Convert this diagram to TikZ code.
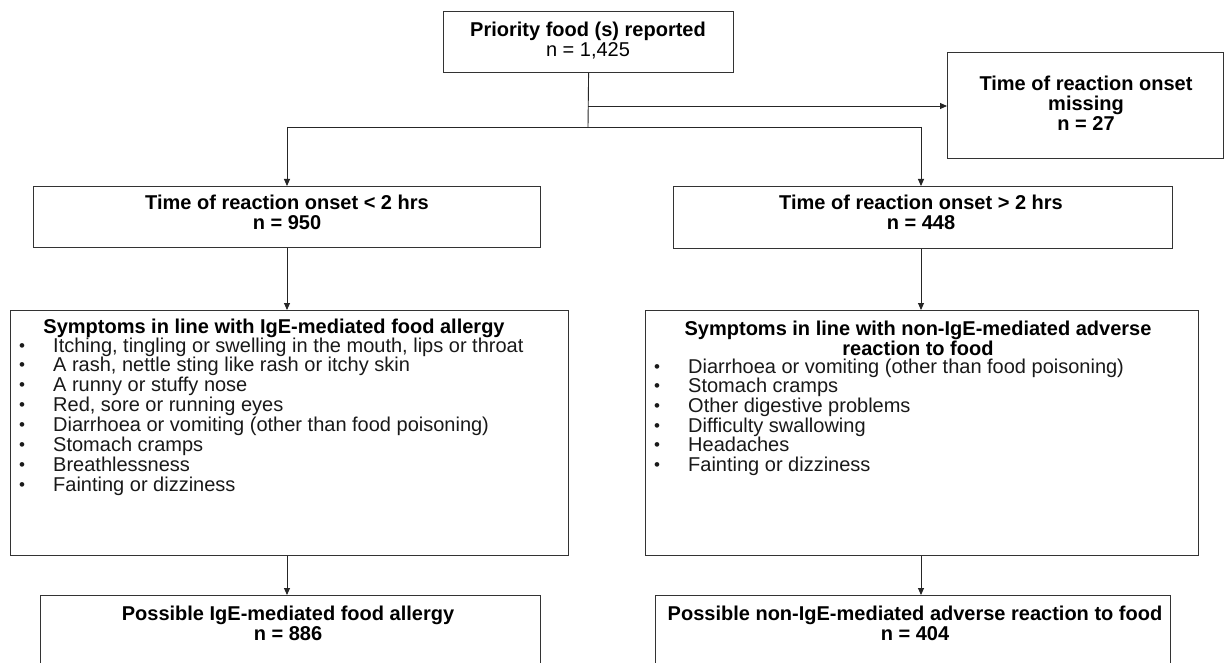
\documentclass[tikz,border=0pt]{standalone}
\usepackage{fontspec}
\setmainfont{Liberation Sans}
\usetikzlibrary{arrows.meta}
\begin{document}
\begin{tikzpicture}[x=1pt,y=1pt,
  box/.style={draw=black!80, line width=1.2pt, inner sep=0pt, anchor=north west},
  lbl/.style={font=\fontsize{20}{20}\selectfont, align=center, inner sep=0pt, text=black},
  itm/.style={font=\fontsize{20}{20}\selectfont, inner sep=0pt, anchor=base west, text=black!90},
  bul/.style={font=\fontsize{17}{17}\selectfont, inner sep=0pt, anchor=base, text=black!90},
  conn/.style={draw=black!85, line width=0.9pt},
  arr/.style={conn, -{Triangle[length=7pt,width=6pt]}}]
\useasboundingbox (0,0) rectangle (1224,-663);
\fill[white] (0,0) rectangle (1224,-663);
\begin{scope}
\clip (0,0) rectangle (1224,-663);
% boxes
\node[box, minimum width=290pt, minimum height=61pt] (top) at (443,-11) {};
\node[box, minimum width=276pt, minimum height=106pt] (miss) at (947,-52) {};
\node[box, minimum width=507pt, minimum height=61pt] (lt) at (33,-186) {};
\node[box, minimum width=499pt, minimum height=62pt] (rt) at (673,-186) {};
\node[box, minimum width=558pt, minimum height=245pt] (ls) at (10,-310) {};
\node[box, minimum width=553pt, minimum height=245pt] (rs) at (645,-310) {};
\node[box, minimum width=500pt, minimum height=120pt] (lb) at (40,-595) {};
\node[box, minimum width=515pt, minimum height=120pt] (rb) at (655,-595) {};
\end{scope}
% texts
\node[lbl] (toptx) at (588,-41) {\textbf{Priority food (s) reported}\\n = 1,425};
\node[lbl] (misstx) at (1086,-103) {\textbf{Time of reaction onset}\\\textbf{missing}\\\textbf{n = 27}};
\node[lbl] (lttx) at (287,-212) {\textbf{Time of reaction onset < 2 hrs}\\\textbf{n = 950}};
\node[lbl] (rttx) at (921,-212) {\textbf{Time of reaction onset > 2 hrs}\\\textbf{n = 448}};
\node[lbl, anchor=base] (lstitle) at (274,-333) {\textbf{Symptoms in line with IgE-mediated food allergy}};
\node[lbl] (rstitle) at (918,-338) {\textbf{Symptoms in line with non-IgE-mediated adverse}\\\textbf{reaction to food}};
\node[lbl] (lbtx) at (288,-623) {\textbf{Possible IgE-mediated food allergy}\\\textbf{n = 886}};
\node[lbl] (rbtx) at (915,-623) {\textbf{Possible non-IgE-mediated adverse reaction to food}\\\textbf{n = 404}};
% lists
\foreach [count=\i] \t in {{Itching, tingling or swelling in the mouth, lips or throat},
  {A rash, nettle sting like rash or itchy skin},
  {A runny or stuffy nose},
  {Red, sore or running eyes},
  {Diarrhoea or vomiting (other than food poisoning)},
  {Stomach cramps},
  {Breathlessness},
  {Fainting or dizziness}}{
  \node[bul] (lbu\i) at (22,{-351-(\i-1)*19.86}) {•};
  \node[itm] (lit\i) at (53,{-352-(\i-1)*19.86}) {\t};
}
\foreach [count=\i] \t in {{Diarrhoea or vomiting (other than food poisoning)},
  {Stomach cramps},
  {Other digestive problems},
  {Difficulty swallowing},
  {Headaches},
  {Fainting or dizziness}}{
  \node[bul] (rbu\i) at (657,{-372-(\i-1)*19.7}) {•};
  \node[itm] (rit\i) at (688,{-373-(\i-1)*19.7}) {\t};
}
% connectors
\coordinate (j1) at (588,-106);
\coordinate (j2) at (588,-127);
\coordinate (jl) at (287,-127);
\coordinate (jr) at (921,-127);
\draw[conn] (top.south) -- (j2);
\draw[arr] (j1) -- (j1 -| miss.west);
\draw[conn] (jl) -- (jr);
\draw[arr] (jl) -- (jl |- lt.north);
\draw[arr] (jr) -- (jr |- rt.north);
\draw[arr] (jl |- lt.south) -- (jl |- ls.north);
\draw[arr] (jr |- rt.south) -- (jr |- rs.north);
\draw[arr] (jl |- ls.south) -- (jl |- lb.north);
\draw[arr] (jr |- rs.south) -- (jr |- rb.north);
\end{tikzpicture}
\end{document}
